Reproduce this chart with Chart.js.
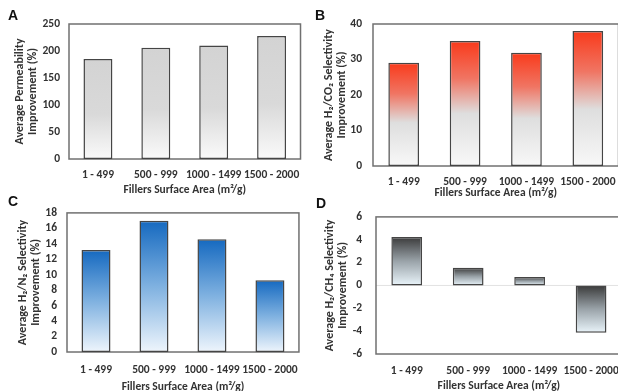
<!DOCTYPE html>
<html>
<head>
<meta charset="utf-8">
<script src="https://cdn.jsdelivr.net/npm/chart.js@4"></script>
<style>
  body { margin: 0; background: #fff; overflow: hidden; width: 618px; height: 391px; position: relative; }
  canvas { position: absolute; }
</style>
</head>
<body>
<canvas id="chartA" width="309" height="200" style="left:0;top:0"></canvas>
<canvas id="chartB" width="316" height="200" style="left:309px;top:0"></canvas>
<canvas id="chartC" width="309" height="200" style="left:0;top:196px"></canvas>
<canvas id="chartD" width="320" height="200" style="left:309px;top:196px"></canvas>
<script>
// data
const categories = ['1 - 499', '500 - 999', '1000 - 1499', '1500 - 2000'];
const permeability = [185, 206, 210, 228];
const selectivityCO2 = [29.1, 35.2, 31.9, 38.0];
const selectivityN2 = [13.2, 17.0, 14.6, 9.3];
const selectivityCH4 = [4.25, 1.55, 0.75, -4.15];

const xTitle = 'Fillers Surface Area (m²/g)';
const textColor = '#333';
const fontFamily = 'Carlito, "Liberation Sans Narrow", Lato, sans-serif';

// vertical gradient from top of each bar to its bottom
function barFill(stops) {
  return function(ctx) {
    const chart = ctx.chart;
    if (!chart.chartArea || ctx.type !== 'data') return stops[0][1];
    const y = chart.scales.y;
    const v = ctx.raw;
    const top = y.getPixelForValue(Math.max(v, 0));
    const bot = y.getPixelForValue(Math.min(v, 0));
    const g = chart.ctx.createLinearGradient(0, top, 0, bot + 0.01);
    stops.forEach(s => g.addColorStop(s[0], s[1]));
    return g;
  };
}

const framePlugin = {
  id: 'frame',
  beforeDatasetsDraw(chart, args, opts) {
    const { ctx, chartArea: a } = chart;
    ctx.save();
    if (opts.zeroLine) {
      const y0 = chart.scales.y.getPixelForValue(0);
      ctx.strokeStyle = '#e2e2e2';
      ctx.lineWidth = 1;
      ctx.beginPath();
      ctx.moveTo(a.left, y0);
      ctx.lineTo(a.right, y0);
      ctx.stroke();
    }
    ctx.strokeStyle = '#707070';
    ctx.lineWidth = 1.5;
    ctx.strokeRect(a.left, a.top, a.right - a.left, a.bottom - a.top);
    ctx.restore();
  },
  afterDraw(chart, args, opts) {
    const ctx = chart.ctx;
    ctx.save();
    ctx.fillStyle = '#111';
    ctx.font = 'bold 14px "Liberation Sans", Arial, sans-serif';
    ctx.textAlign = 'center';
    ctx.textBaseline = 'middle';
    ctx.fillText(opts.letter, opts.lx, opts.ly);
    ctx.restore();
  }
};

function makeChart(id, values, o) {
  return new Chart(document.getElementById(id), {
    type: 'bar',
    data: {
      labels: categories,
      datasets: [{
        data: values,
        backgroundColor: barFill(o.stops),
        borderColor: '#454545',
        borderWidth: 1.5,
        borderSkipped: false,
        categoryPercentage: 1,
        barPercentage: 0.5
      }]
    },
    plugins: [framePlugin],
    options: {
      responsive: false,
      animation: false,
      layout: { padding: o.pad },
      plugins: {
        legend: { display: false },
        tooltip: { enabled: false },
        frame: { letter: o.letter, lx: o.lx, ly: o.ly, zeroLine: o.zeroLine }
      },
      scales: {
        x: {
          grid: { display: false, drawTicks: false },
          border: { display: false },
          ticks: { color: textColor, padding: o.xPad, font: { family: fontFamily, size: 11.5, weight: 'bold' }, maxRotation: 0, autoSkip: false },
          title: { display: true, text: xTitle, color: textColor, padding: { top: 0, bottom: o.xtPad }, font: { family: fontFamily, size: 11.5, weight: 'bold' } },
          afterFit(s) { s.height = o.xHeight; }
        },
        y: {
          min: o.min, max: o.max,
          grid: { display: false, drawTicks: false },
          border: { display: false },
          ticks: { stepSize: o.step, autoSkip: false, color: textColor, padding: o.yPad, font: { family: fontFamily, size: 11.5, weight: 'bold' } },
          title: { display: true, text: o.yTitle, color: textColor, padding: { top: o.ytPad, bottom: 0 }, font: { family: fontFamily, size: 12, weight: 'bold', lineHeight: 1.1 } },
          afterFit(s) { s.width = o.yWidth; }
        }
      }
    }
  });
}

makeChart('chartA', permeability, {
  letter: 'A', lx: 13, ly: 16,
  yTitle: ['Average Permeability', 'Improvement (%)'],
  min: 0, max: 250, step: 50,
  pad: { left: 0, top: 24, right: 6, bottom: 0 },
  yWidth: 69, xHeight: 41, yPad: 9, xPad: 9, xtPad: 3, ytPad: 13.5,
  stops: [[0, '#d3d3d3'], [0.55, '#d9d9d9'], [1, '#fafafa']]
});

makeChart('chartB', selectivityCO2, {
  letter: 'B', lx: 11, ly: 16,
  yTitle: ['Average H₂/CO₂ Selectivity', 'Improvement (%)'],
  min: 0, max: 40, step: 10,
  pad: { left: 0, top: 24, right: 4, bottom: 0 },
  yWidth: 64, xHeight: 34, yPad: 11, xPad: 9, xtPad: 0, ytPad: 13.5,
  stops: [[0, '#f93a1b'], [0.3, '#f07563'], [0.58, '#dedede'], [1, '#f8f8f8']]
});

makeChart('chartC', selectivityN2, {
  letter: 'C', lx: 13, ly: 6,
  yTitle: ['Average H₂/N₂ Selectivity', 'Improvement (%)'],
  min: 0, max: 18, step: 2,
  pad: { left: 0, top: 16, right: 3, bottom: 0 },
  yWidth: 67, xHeight: 44, yPad: 10, xPad: 11, xtPad: 2, ytPad: 16.5,
  stops: [[0, '#1569c0'], [0.5, '#7fb1e0'], [1, '#eef5fc']]
});

makeChart('chartD', selectivityCH4, {
  letter: 'D', lx: 12, ly: 8, zeroLine: true,
  yTitle: ['Average H₂/CH₄ Selectivity', 'Improvement (%)'],
  min: -6, max: 6, step: 2,
  pad: { left: 0, top: 18, right: 2, bottom: 0 },
  yWidth: 67, xHeight: 42, yPad: 14, xPad: 10, xtPad: 3, ytPad: 14.5,
  stops: [[0, '#3a3a3a'], [0.5, '#9aa3a9'], [1, '#eaf5fb']]
});
</script>
</body>
</html>
